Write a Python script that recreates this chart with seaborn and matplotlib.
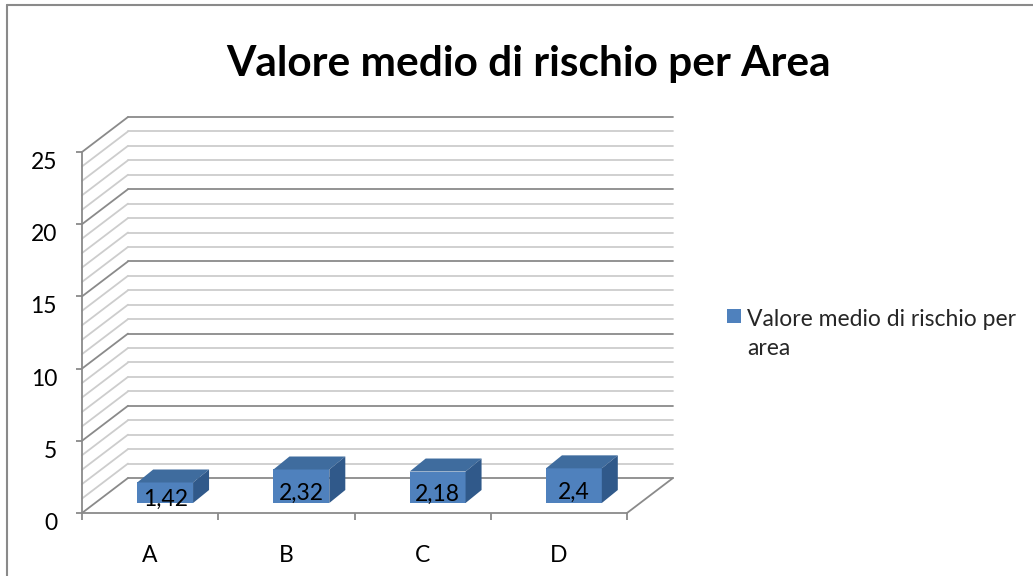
import numpy as np
import matplotlib
matplotlib.use("Agg")
import matplotlib.pyplot as plt
import seaborn as sns
from matplotlib.lines import Line2D
from matplotlib.patches import Polygon, Patch, Rectangle
from matplotlib.legend_handler import HandlerPatch
from matplotlib.transforms import IdentityTransform, ScaledTranslation

# ---- data ----
categories = ["A", "B", "C", "D"]
values = [1.42, 2.32, 2.18, 2.4]
value_labels = ["1,42", "2,32", "2,18", "2,4"]
y_ticks = [0, 5, 10, 15, 20, 25]
series_name = "Valore medio di rischio per\narea"
title = "Valore medio di rischio per Area"

sns.set_theme(style="white")
plt.rcParams["font.family"] = ["Lato", "DejaVu Sans"]

W, H = 1033, 576
fig = plt.figure(figsize=(W / 100, H / 100), dpi=100)
fig.patch.set_facecolor("white")

# front plane of the 3D box (pixel geometry)
L, R, B, T = 82, 627, 513, 152
ax = fig.add_axes([L / W, 1 - B / H, (R - L) / W, (B - T) / H])
ax.set_facecolor("none")

front_col = "#4F81BD"
top_col = "#3F6C9E"
side_col = "#30598A"
major_c = "#8A8A8A"
minor_c = "#CDCDCD"
FS = 16.5

sns.barplot(x=categories, y=values, color=front_col, saturation=1, width=0.41,
            ax=ax, zorder=5)
ax.set_xlim(-0.5, 3.5)
ax.set_ylim(0, 25)
ax.autoscale(False)

# depth offsets in pixels (display: y up)
wall_dx, wall_dy = 46, 35
bar_dx, bar_dy = 15, 10
bdep_dx, bdep_dy = 16, 13

ident = IdentityTransform()

def disp(x, y):
    return ax.transData.transform((x, y))

# back wall and left wall gridlines
for v in range(0, 26):
    c = major_c if v % 5 == 0 else minor_c
    x0, y0 = disp(-0.5, v)
    x1, y1 = disp(3.5, v)
    ax.add_line(Line2D([x0 + wall_dx, x1 + wall_dx], [y0 + wall_dy, y1 + wall_dy],
                       color=c, lw=1.3, transform=ident, clip_on=False, zorder=1))
    ax.add_line(Line2D([x0, x0 + wall_dx], [y0, y0 + wall_dy],
                       color=c, lw=1.3, transform=ident, clip_on=False, zorder=1))
# floor right edge
x1, y1 = disp(3.5, 0)
ax.add_line(Line2D([x1, x1 + wall_dx], [y1, y1 + wall_dy], color=major_c, lw=1.3,
                   transform=ident, clip_on=False, zorder=1))

# 3D bars
off = ScaledTranslation(bar_dx / 100, bar_dy / 100, fig.dpi_scale_trans)
for p, lab in zip(ax.patches, value_labels):
    p.set_transform(ax.transData + off)
    p.set_edgecolor("none")
    x0 = p.get_x(); x1 = x0 + p.get_width(); h = p.get_height()
    (ax0, ay0) = disp(x0, 0); (ax1, ay1) = disp(x1, h)
    ax0 += bar_dx; ax1 += bar_dx; ay0 += bar_dy; ay1 += bar_dy
    top = Polygon([(ax0, ay1), (ax1, ay1), (ax1 + bdep_dx, ay1 + bdep_dy),
                   (ax0 + bdep_dx, ay1 + bdep_dy)], closed=True, facecolor=top_col,
                  edgecolor="none", transform=ident, clip_on=False, zorder=6)
    side = Polygon([(ax1, ay0), (ax1, ay1), (ax1 + bdep_dx, ay1 + bdep_dy),
                    (ax1 + bdep_dx, ay0 + bdep_dy)], closed=True, facecolor=side_col,
                   edgecolor="none", transform=ident, clip_on=False, zorder=6)
    ax.add_patch(top); ax.add_patch(side)
    ax.text((ax0 + ax1) / 2, (ay0 + ay1) / 2 - 7, lab, transform=ident, ha="center",
            va="center", fontsize=FS, color="black", zorder=7, clip_on=False)

# axes styling
for s in ["top", "right"]:
    ax.spines[s].set_visible(False)
for s in ["left", "bottom"]:
    ax.spines[s].set_color(major_c)
    ax.spines[s].set_linewidth(1.3)
    ax.spines[s].set_zorder(2)
ax.set_yticks(y_ticks)
ax.set_yticklabels([str(t) for t in y_ticks])
plt.setp(ax.get_yticklabels(), va="top")
ax.tick_params(axis="y", left=True, length=4.5, width=1.3, color=major_c,
               pad=13.5, labelsize=FS, labelcolor="black")
ax.set_xticks(range(len(categories)))
ax.set_xticklabels(categories)
ax.set_xticks(np.arange(-0.5, 4, 1), minor=True)
ax.tick_params(axis="x", which="major", length=0, pad=23, labelsize=FS, labelcolor="black")
ax.tick_params(axis="x", which="minor", bottom=True, length=5, width=1.3, color=major_c)
ax.set_xlabel(""); ax.set_ylabel("")
ax.grid(False)

# title
fig.text(529 / W, 1 - 64 / H, title, ha="center", va="center", fontsize=30.5,
         fontweight="bold", color="black")

# legend: square aligned with first text line
def top_square(legend, orig_handle, xdescent, ydescent, width, height, fontsize):
    sq = 0.62 * fontsize
    return Rectangle((-xdescent, -ydescent + 0.84 * fontsize), sq, sq)

leg = fig.legend(handles=[Patch(facecolor=front_col, edgecolor="none", label=series_name)],
                 handler_map={Patch: HandlerPatch(patch_func=top_square)},
                 loc="upper left", bbox_to_anchor=(727 / W, 1 - 309 / H), frameon=False,
                 fontsize=FS, handlelength=0.62, handleheight=0.7, handletextpad=0.25,
                 borderaxespad=0, borderpad=0)
for t in leg.get_texts():
    t.set_linespacing(1.45)

# outer frame (cropped)
fig.add_artist(Line2D([7 / W, 7 / W], [0, 1 - 5 / H], color="#8A8A8A", lw=1.5,
                      transform=fig.transFigure))
fig.add_artist(Line2D([7 / W, 1], [1 - 5 / H, 1 - 5 / H], color="#8A8A8A", lw=1.5,
                      transform=fig.transFigure))

fig.savefig("out.png", dpi=100)
